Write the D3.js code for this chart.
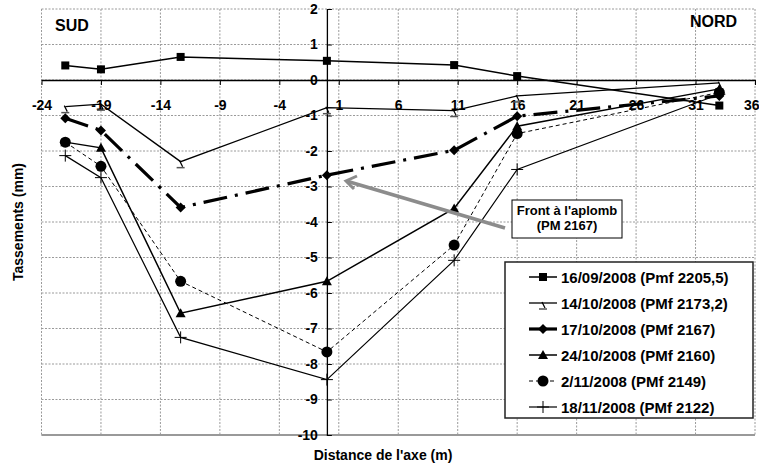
<!DOCTYPE html>
<html><head><meta charset="utf-8">
<script src="https://cdn.jsdelivr.net/npm/d3@7"></script>
<style>
body{margin:0;background:#fff;}
svg{display:block;font-family:"Liberation Sans",Arial,sans-serif;font-weight:bold;}
</style></head>
<body>
<svg id="c" width="759" height="465"></svg>
<script>
const distances = [-22, -19, -12.3, 0, 10.7, 16, 33];
const s1609 = [0.41, 0.30, 0.65, 0.54, 0.42, 0.11, -0.72];
const s1410 = [-0.75, -0.68, -2.3, -0.78, -0.86, -0.45, -0.08];
const s1710 = [-1.08, -1.42, -3.59, -2.68, -1.98, -1.02, -0.45];
const s2410 = [-1.75, -1.91, -6.57, -5.67, -3.62, -1.3, -0.25];
const s0211 = [-1.75, -2.43, -5.67, -7.66, -4.65, -1.51, -0.35];
const s1811 = [-2.13, -2.75, -7.25, -8.44, -5.08, -2.52, -0.4];
const seriesNames = ["16/09/2008 (Pmf 2205,5)", "14/10/2008 (PMf 2173,2)", "17/10/2008 (PMf 2167)", "24/10/2008 (PMf 2160)", "2/11/2008 (PMf 2149)", "18/11/2008 (PMf 2122)"];
const xTicks = [-24, -19, -14, -9, -4, 1, 6, 11, 16, 21, 26, 31, 36];
const yTicks = [-10, -9, -8, -7, -6, -5, -4, -3, -2, -1, 0, 1, 2];

const svg = d3.select("#c");
const x = d3.scaleLinear().domain([-24, 36]).range([41.5, 755]);
const y = d3.scaleLinear().domain([-10, 2]).range([435, 9]);

// grid
const grid = svg.append("g");
grid.selectAll(".gh").data(yTicks).join("line")
  .attr("x1", x(-24)).attr("x2", x(36)).attr("y1", d => y(d)).attr("y2", d => y(d))
  .attr("stroke", "#9a9a9a").attr("stroke-width", 1).attr("stroke-dasharray", "2,1.5");
grid.selectAll(".gv").data(xTicks).join("line")
  .attr("y1", y(2)).attr("y2", y(-10)).attr("x1", d => x(d)).attr("x2", d => x(d))
  .attr("stroke", "#9a9a9a").attr("stroke-width", 1).attr("stroke-dasharray", "2,1.5");
grid.append("line").attr("x1", x(-24)).attr("x2", x(36)).attr("y1", y(-10)).attr("y2", y(-10))
  .attr("stroke", "#999").attr("stroke-width", 2);

// axes
const fmt = d => String(d);
const xAxis = svg.append("g").attr("transform", `translate(0,${y(0)})`)
  .call(d3.axisBottom(x).tickValues(xTicks).tickSize(5).tickSizeOuter(0).tickPadding(15).tickFormat(fmt));
xAxis.select(".domain").attr("stroke", "#000").attr("stroke-width", 1.3);
xAxis.selectAll(".tick line").attr("stroke", "#000");
xAxis.selectAll("text").attr("font-size", 14).attr("font-weight", "bold").attr("font-family", "Liberation Sans, Arial").attr("fill", "#000");
xAxis.selectAll(".tick").filter(d => d === 36).select("text").attr("text-anchor", "end").attr("x", 4);

const yAxis = svg.append("g").attr("transform", `translate(${x(0)},0)`)
  .call(d3.axisLeft(y).tickValues(yTicks).tickSize(-5).tickSizeOuter(0).tickPadding(9).tickFormat(fmt));
yAxis.select(".domain").attr("stroke", "#000").attr("stroke-width", 1.3);
yAxis.selectAll(".tick line").attr("stroke", "#000");
yAxis.selectAll("text").attr("font-size", 14).attr("font-weight", "bold").attr("font-family", "Liberation Sans, Arial").attr("fill", "#000");

// titles
svg.append("text").attr("x", 55).attr("y", 31).attr("font-size", 16).text("SUD");
svg.append("text").attr("x", 690).attr("y", 27).attr("font-size", 16).text("NORD");
svg.append("text").attr("transform", "translate(23,222) rotate(-90)").attr("text-anchor", "middle")
  .attr("font-size", 14).text("Tassements (mm)");
svg.append("text").attr("x", 383).attr("y", 460).attr("text-anchor", "middle")
  .attr("font-size", 14).text("Distance de l'axe (m)");

// markers
function drawMarker(g, type) {
  if (type === "square") g.append("rect").attr("x", -4).attr("y", -4).attr("width", 8).attr("height", 8).attr("fill", "#000");
  else if (type === "odd") {
    g.append("path").attr("d", "M-1,-1 L2,5").attr("stroke", "#000").attr("stroke-width", 1.2).attr("fill", "none");
    g.append("path").attr("d", "M-4,6 L4,6").attr("stroke", "#555").attr("stroke-width", 1.5).attr("fill", "none");
  }
  else if (type === "diamond") g.append("path").attr("d", "M0,-5 L5,0 L0,5 L-5,0Z").attr("fill", "#000");
  else if (type === "triangle") g.append("path").attr("d", "M0,-5 L5,4 L-5,4Z").attr("fill", "#000");
  else if (type === "circle") g.append("circle").attr("r", 5.5).attr("fill", "#000");
  else if (type === "plus") g.append("path").attr("d", "M-6,0 L6,0 M0,-6 L0,6").attr("stroke", "#000").attr("stroke-width", 1).attr("fill", "none");
}

const seriesDefs = [
  {vals: s1609, marker: "square", width: 1.5, dash: null},
  {vals: s1410, marker: "odd", width: 1.3, dash: null},
  {vals: s1710, marker: "diamond", width: 3.2, dash: "24,8,3,8"},
  {vals: s2410, marker: "triangle", width: 1.5, dash: null},
  {vals: s0211, marker: "circle", width: 1, dash: "4,3"},
  {vals: s1811, marker: "plus", width: 1.2, dash: null}
];

const line = d3.line().x((d, i) => x(distances[i])).y(d => y(d));
seriesDefs.forEach(s => {
  const g = svg.append("g");
  g.append("path").attr("d", line(s.vals)).attr("fill", "none").attr("stroke", "#000")
    .attr("stroke-width", s.width).attr("stroke-dasharray", s.dash);
  s.vals.forEach((v, i) => {
    const m = g.append("g").attr("transform", `translate(${x(distances[i])},${y(v)})`);
    drawMarker(m, s.marker);
  });
});

// annotation
const arrow = svg.append("g").attr("stroke", "#8c8c8c").attr("stroke-width", 3.5).attr("fill", "none");
arrow.append("line").attr("x1", 505).attr("y1", 228).attr("x2", 348).attr("y2", 181.5);
arrow.append("path").attr("d", "M357,176 L346,181 L354,189").attr("stroke-width", 3);
svg.append("rect").attr("x", 512).attr("y", 200).attr("width", 110).attr("height", 38)
  .attr("fill", "#fff").attr("stroke", "#000").attr("stroke-width", 1);
svg.append("text").attr("x", 567).attr("y", 215).attr("text-anchor", "middle").attr("font-size", 13).text("Front à l'aplomb");
svg.append("text").attr("x", 567).attr("y", 230).attr("text-anchor", "middle").attr("font-size", 13).text("(PM 2167)");

// legend
const leg = svg.append("g");
leg.append("rect").attr("x", 505).attr("y", 262).attr("width", 248).attr("height", 156)
  .attr("fill", "#fff").attr("stroke", "#222").attr("stroke-width", 1.5);
seriesDefs.forEach((s, i) => {
  const cy = 277 + i * 26;
  leg.append("line").attr("x1", 529).attr("x2", 557).attr("y1", cy).attr("y2", cy)
    .attr("stroke", "#000").attr("stroke-width", s.width).attr("stroke-dasharray", s.marker === "circle" ? "4,3" : null);
  const m = leg.append("g").attr("transform", `translate(543,${cy})`);
  drawMarker(m, s.marker);
  leg.append("text").attr("x", 561).attr("y", cy + 5.5).attr("font-size", 15).text(seriesNames[i]);
});
</script>
</body></html>
